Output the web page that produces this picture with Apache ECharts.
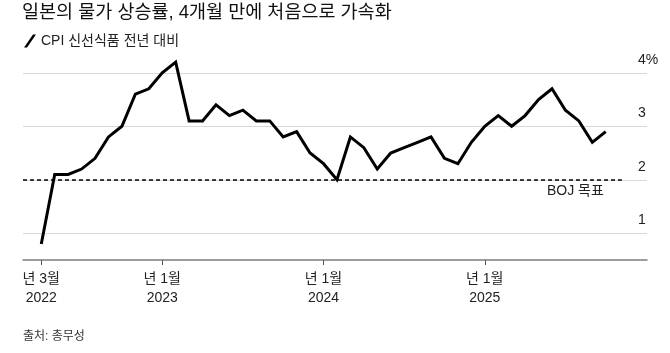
<!DOCTYPE html>
<html>
<head>
<meta charset="utf-8">
<script src="https://cdn.jsdelivr.net/npm/echarts@6/dist/echarts.min.js"></script>
<style>
  html, body { margin: 0; padding: 0; background: #fff; }
  #myChart { width: 670px; height: 353px; }
</style>
</head>
<body>
<div id="myChart"></div>
<script>
// 월별 값 (2022년 3월 ~ 2025년 9월), 전년 대비 %
var months = [
  '2022-03', '2022-04', '2022-05', '2022-06', '2022-07', '2022-08', '2022-09', '2022-10', '2022-11', '2022-12',
  '2023-01', '2023-02', '2023-03', '2023-04', '2023-05', '2023-06', '2023-07', '2023-08', '2023-09', '2023-10', '2023-11', '2023-12',
  '2024-01', '2024-02', '2024-03', '2024-04', '2024-05', '2024-06', '2024-07', '2024-08', '2024-09', '2024-10', '2024-11', '2024-12',
  '2025-01', '2025-02', '2025-03', '2025-04', '2025-05', '2025-06', '2025-07', '2025-08', '2025-09'
]
var cpiValues = [
  0.8, 2.1, 2.1, 2.2, 2.4, 2.8, 3.0, 3.6, 3.7, 4.0,
  4.2, 3.1, 3.1, 3.4, 3.2, 3.3, 3.1, 3.1, 2.8, 2.9, 2.5, 2.3,
  2.0, 2.8, 2.6, 2.2, 2.5, 2.6, 2.7, 2.8, 2.4, 2.3, 2.7, 3.0,
  3.2, 3.0, 3.2, 3.5, 3.7, 3.3, 3.1, 2.7, 2.9
]
// x축 눈금 (월 인덱스)과 라벨
var tickIndex = [0, 9, 21, 33]
var tickLabels = ['년 3월\n2022', '년 1월\n2023', '년 1월\n2024', '년 1월\n2025']
var bojTarget = 2

var fontFamily = "'Liberation Sans', 'Noto Sans CJK KR', sans-serif"

var chart = echarts.init(document.getElementById('myChart'))

var option = {
  animation: false,
  textStyle: { fontFamily: fontFamily },
  title: [
    {
      text: '일본의 물가 상승률, 4개월 만에 처음으로 가속화',
      left: 22,
      top: 4,
      padding: 0,
      textStyle: { fontSize: 18.5, fontWeight: 'normal', color: '#111', fontFamily: fontFamily }
    },
    {
      text: '출처: 총무성',
      left: 23,
      top: 331,
      padding: 0,
      textStyle: { fontSize: 12, fontWeight: 'normal', color: '#333', fontFamily: fontFamily }
    }
  ],
  legend: {
    left: 24,
    top: 34,
    padding: 0,
    itemWidth: 12,
    itemHeight: 13,
    textStyle: { fontSize: 14, color: '#222', fontFamily: fontFamily },
    data: [{ name: 'CPI 신선식품 전년 대비', icon: 'path://M9,0 L12,0 L3,13 L0,13 Z' }]
  },
  grid: {
    left: 23,
    right: 23,
    top: 46,
    bottom: 93,
    outerBoundsMode: 'none'
  },
  xAxis: {
    type: 'value',
    min: -1.36,
    max: 45.07,
    axisLine: { show: true, lineStyle: { color: '#7f7f7f', width: 1.5 } },
    axisTick: { show: true, customValues: tickIndex, length: 5, lineStyle: { color: '#555' } },
    axisLabel: {
      customValues: tickIndex,
      formatter: function (value) {
        var i = tickIndex.indexOf(Math.round(value))
        return i >= 0 ? tickLabels[i] : ''
      },
      fontSize: 14,
      lineHeight: 19,
      margin: 10,
      color: '#222'
    },
    splitLine: { show: false }
  },
  yAxis: {
    type: 'value',
    position: 'right',
    min: 0.5,
    max: 4.5,
    interval: 0.5,
    axisLine: { show: false },
    axisTick: { show: false },
    // 0.5 간격 눈금 중 정수 값에만 선을 그림
    splitLine: { show: true, lineStyle: { color: ['rgba(0,0,0,0)', '#d9d9d9'], width: 1 } },
    axisLabel: {
      formatter: function (value) {
        if (Math.abs(value - Math.round(value)) > 1e-6) return ''
        return value === 4 ? '4%' : String(Math.round(value))
      },
      align: 'left',
      margin: -9,
      verticalAlign: 'bottom',
      lineHeight: 14,
      padding: [0, 0, 6, 0],
      fontSize: 14,
      color: '#222'
    }
  },
  series: [
    {
      name: 'CPI 신선식품 전년 대비',
      type: 'line',
      data: cpiValues.map(function (v, i) { return [i, v] }),
      showSymbol: false,
      color: '#000',
      lineStyle: { color: '#000', width: 3, join: 'miter' },
      markLine: {
        silent: true,
        symbol: 'none',
        lineStyle: { color: '#000', type: [4, 3], width: 1.5 },
        label: {
          show: true,
          formatter: 'BOJ 목표',
          position: 'insideEndBottom',
          distance: [18, 4],
          fontSize: 14,
          color: '#222',
          fontFamily: fontFamily
        },
        data: [[{ coord: [-1.36, bojTarget] }, { coord: [43.2, bojTarget] }]]
      }
    }
  ]
}

chart.setOption(option)
</script>
</body>
</html>
